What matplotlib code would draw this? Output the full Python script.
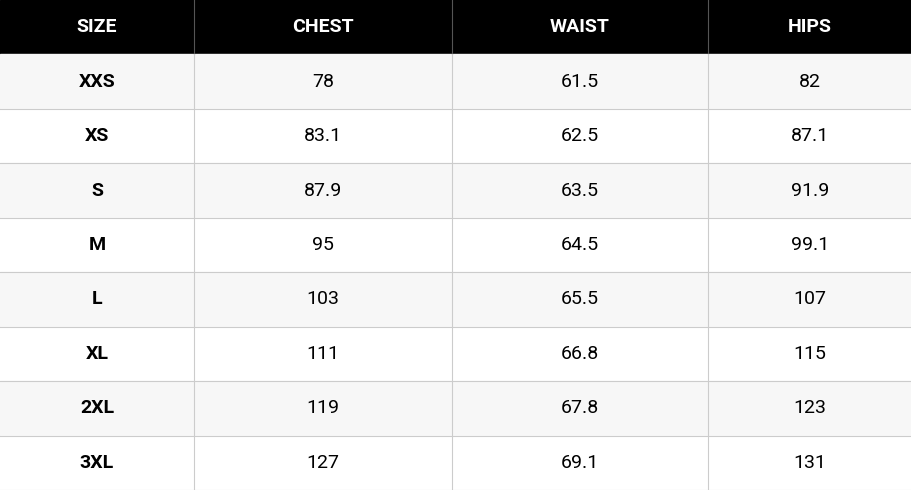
import matplotlib.pyplot as plt
from matplotlib.patches import Rectangle

# Data
headers = ["SIZE", "CHEST", "WAIST", "HIPS"]
sizes = ["XXS", "XS", "S", "M", "L", "XL", "2XL", "3XL"]
chest = ["78", "83.1", "87.9", "95", "103", "111", "119", "127"]
waist = ["61.5", "62.5", "63.5", "64.5", "65.5", "66.8", "67.8", "69.1"]
hips = ["82", "87.1", "91.9", "99.1", "107", "115", "123", "131"]

col_edges = [0, 194, 452, 708, 912]
row_h = 490 / 9.0

fig = plt.figure(figsize=(9.12, 4.9), dpi=100)
ax = fig.add_axes([0, 0, 1, 1])
ax.set_xlim(0, 912)
ax.set_ylim(490, 0)
ax.axis("off")

# header
ax.add_patch(Rectangle((0, 0), 912, row_h, color="black"))
for j, h in enumerate(headers):
    cx = (col_edges[j] + col_edges[j + 1]) / 2
    ax.text(cx, row_h / 2, h, color="white", ha="center", va="center",
            fontsize=14, fontweight="bold", family="Roboto")
for x in col_edges[1:-1]:
    ax.plot([x, x], [0, row_h], color="#555555", lw=0.8)

cols = [sizes, chest, waist, hips]
for i in range(len(sizes)):
    y0 = (i + 1) * row_h
    bg = "#f7f7f7" if i % 2 == 0 else "white"
    ax.add_patch(Rectangle((0, y0), 912, row_h, color=bg))
    ax.plot([0, 912], [y0 + row_h, y0 + row_h], color="#cccccc", lw=0.8)
    for j in range(4):
        cx = (col_edges[j] + col_edges[j + 1]) / 2
        ax.text(cx, y0 + row_h / 2, cols[j][i], color="black", ha="center",
                va="center", fontsize=14, family="Roboto",
                fontweight="bold" if j == 0 else "normal")
for x in col_edges[1:-1]:
    ax.plot([x, x], [row_h, 490], color="#cccccc", lw=0.8)

plt.savefig("out.png", dpi=100)
